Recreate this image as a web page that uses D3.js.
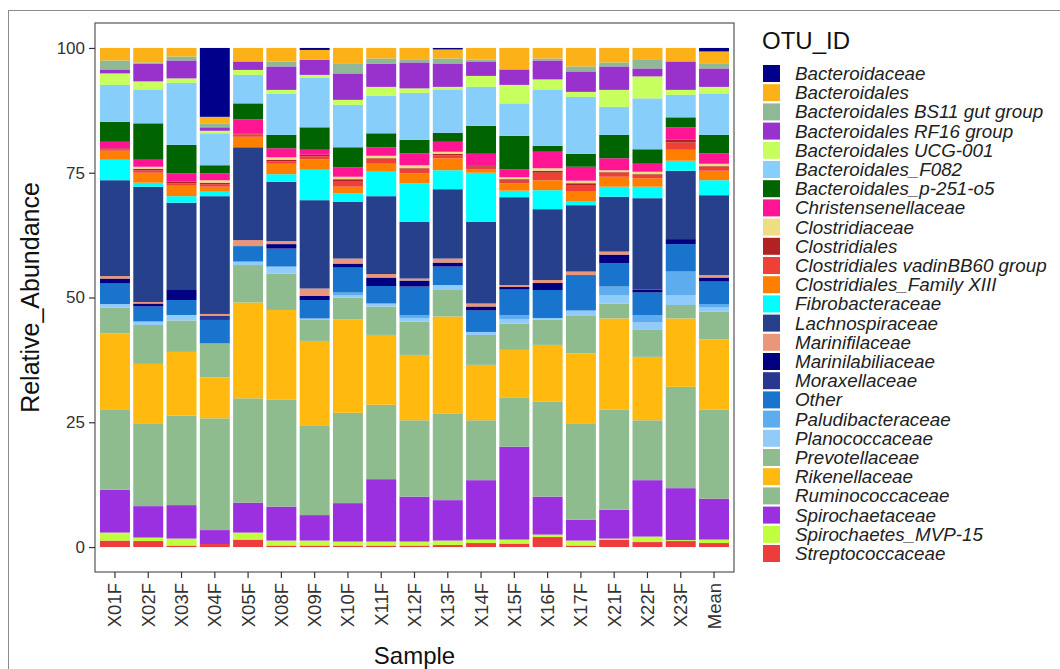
<!DOCTYPE html>
<html>
<head>
<meta charset="utf-8">
<script src="https://cdn.jsdelivr.net/npm/d3@7"></script>
<style>
  html, body { margin: 0; padding: 0; background: #fff; }
  svg { display: block; font-family: "Liberation Sans", Arial, Helvetica, sans-serif; }
</style>
</head>
<body>
<svg id="chart" width="1060" height="669"></svg>
<script>
// Samples along the x axis
const samples = ["X01F","X02F","X03F","X04F","X05F","X08F","X09F","X10F","X11F","X12F",
                 "X13F","X14F","X15F","X16F","X17F","X21F","X22F","X23F","Mean"];

// Taxa in legend order (first = top of each stack)
const taxa = [
  "Bacteroidaceae","Bacteroidales","Bacteroidales BS11 gut group","Bacteroidales RF16 group",
  "Bacteroidales UCG-001","Bacteroidales_F082","Bacteroidales_p-251-o5","Christensenellaceae",
  "Clostridiaceae","Clostridiales","Clostridiales vadinBB60 group","Clostridiales_Family XIII",
  "Fibrobacteraceae","Lachnospiraceae","Marinifilaceae","Marinilabiliaceae","Moraxellaceae",
  "Other","Paludibacteraceae","Planococcaceae","Prevotellaceae","Rikenellaceae",
  "Ruminococcaceae","Spirochaetaceae","Spirochaetes_MVP-15","Streptococcaceae"
];

const taxonColors = [
  "#00008B","#FBB117","#8FB996","#9932CC",
  "#C6FF5E","#87CEFA","#006400","#FF1493",
  "#EEDD82","#B22222","#EE4036","#FF7F00",
  "#00FFFF","#27408B","#E9967A","#000080","#283891",
  "#1874CD","#5CACEE","#90CBF9","#8FBC8F","#FFB90F",
  "#8FBC8F","#9B30E0","#C0FF3E","#EE3B3B"
];

// Relative abundance (%) per taxon, one value per sample in the order of `samples`
const bacteroidaceae    = [0,0,0,13.8,0,0,0.4,0,0,0,0.3,0,0,0,0,0,0,0,0.7];
const bacteroidales     = [2.5,2.9,1.7,1.3,2.7,2.7,2.0,3.2,2.1,2.4,1.8,2.3,4.3,2.1,3.7,2.9,2.4,2.7,2.5];
const bs11GutGroup      = [1.8,0.3,0.8,0.8,0,1.0,0,1.9,1.1,0.5,1.0,0.4,0,0.4,1.0,0.8,1.7,0,0.9];
const rf16Group         = [0.8,3.5,3.6,0.7,1.7,4.7,3.0,5.3,4.6,5.2,4.7,2.9,3.1,3.8,4.1,4.7,1.6,5.7,3.7];
const ucg001            = [2.3,1.6,0.9,0.5,1.0,0.8,0.5,1.0,1.8,0.9,0.5,2.2,3.7,2.0,1.0,3.4,4.4,1.0,1.3];
const f082              = [7.4,6.8,12.4,6.4,5.7,8.2,10.0,8.5,7.5,9.4,8.7,7.8,6.5,11.3,11.4,5.6,10.2,4.5,8.3];
const p251o5            = [4.0,7.3,5.7,1.6,3.2,2.7,4.5,4.0,2.8,2.7,1.8,5.6,6.7,1.2,2.6,4.7,2.9,2.0,3.7];
const christensenella   = [1.3,1.4,1.7,1.4,2.8,1.8,1.0,1.9,1.7,2.4,2.0,2.3,1.6,3.3,2.8,2.4,1.6,2.5,2.1];
const clostridiaceae    = [0,0.4,0,0.5,0,0.5,0,0.5,0.5,0.6,0.4,0,0.4,0.5,0.5,0.4,0.5,0,0.5];
const clostridiales     = [0.2,0.3,0.3,0.3,0.2,0.3,0.3,0.5,0.3,0.3,0.3,0.3,0.3,0.4,0.5,0.3,0.3,0.5,0.3];
const vadinBB60         = [0.3,0.5,0.5,0.5,0.5,0.5,0.6,1.0,0.8,0.7,0.6,0.5,0.5,1.5,1.2,0.6,0.5,1.5,0.6];
const familyXIII        = [1.8,2.0,2.1,1.0,2.1,2.1,2.1,1.3,1.6,2.0,2.4,0.7,1.5,2.0,2.0,2.0,1.7,2.2,1.9];
const fibrobacteraceae  = [4.1,0.8,1.3,0.9,0,1.5,6.1,1.7,4.9,7.7,3.8,9.8,1.3,3.8,0.7,2.0,2.3,2.0,3.0];
const lachnospiraceae   = [19.2,23.1,17.5,23.6,18.6,11.9,17.7,11.4,15.6,11.4,13.9,16.4,17.6,14.2,13.3,11.0,18.3,13.7,16.0];
const marinifilaceae    = [0.5,0.3,0,0.4,1.2,0.6,1.5,1.0,0.7,0.4,0.8,0.6,0.4,0.6,0.7,0.6,0,0,0.5];
const marinilabiliaceae = [1.0,0.6,2.0,0,0,0.9,0.8,0.8,1.7,1.2,0.8,0.8,0.5,1.4,0,1.7,0.6,1.0,0.8];
const moraxellaceae     = [0,0,0,0.8,0,0,0,0,0,0,0,0,0,0,0,0,0,0,0];
const other             = [4.1,3.0,3.0,4.7,3.1,3.6,3.7,5.0,3.5,5.7,3.7,4.3,5.1,5.6,7.1,4.7,4.5,5.5,4.5];
const paludibacteraceae = [0,0,0,0,0,0,0,0.5,0,0.6,0,0,0.8,0,0,1.8,1.5,4.7,0.7];
const planococcaceae    = [0.7,0.7,1.1,0,0.7,1.4,0.3,0.5,0.6,0.7,1.0,0.6,0.9,0.3,1.1,1.6,1.5,2.0,0.8];
const prevotellaceae    = [5.2,7.8,6.3,6.8,7.5,7.3,4.2,4.4,5.7,6.7,5.3,6.0,5.3,5.1,7.5,3.0,5.4,2.7,5.6];
const rikenellaceae     = [15.2,11.9,12.8,8.2,19.2,18.0,16.9,18.7,14.0,13.1,19.4,11.1,9.5,11.4,14.0,18.3,12.7,13.7,14.1];
const ruminococcaceae   = [16.1,16.6,17.9,22.4,20.9,21.4,18.0,18.1,14.9,15.3,17.4,12.0,9.9,19.0,19.3,20.0,12.0,20.3,17.8];
const spirochaetaceae   = [8.6,6.3,6.7,2.8,6.0,6.8,5.1,7.7,12.5,9.0,8.1,11.9,18.6,7.6,4.2,5.8,11.3,10.4,8.2];
const mvp15             = [1.6,0.7,1.4,0,1.4,1.0,1.0,0.8,0.8,0.8,0.9,0.7,0.8,0.5,1.0,0.2,1.1,0.2,0.7];
const streptococcaceae  = [1.3,1.2,0.3,0.6,1.5,0.3,0.3,0.3,0.3,0.3,0.4,0.8,0.7,2.0,0.3,1.5,1.0,1.2,0.8];

const seriesValues = [
  bacteroidaceae, bacteroidales, bs11GutGroup, rf16Group, ucg001, f082, p251o5,
  christensenella, clostridiaceae, clostridiales, vadinBB60, familyXIII, fibrobacteraceae,
  lachnospiraceae, marinifilaceae, marinilabiliaceae, moraxellaceae, other, paludibacteraceae,
  planococcaceae, prevotellaceae, rikenellaceae, ruminococcaceae, spirochaetaceae, mvp15,
  streptococcaceae
];

const yTicks = [0, 25, 50, 75, 100];

// Table of rows for d3.stack
const table = samples.map((s, i) => {
  const row = { sample: s };
  taxa.forEach((t, k) => { row[t] = seriesValues[k][i]; });
  return row;
});

const svg = d3.select("#chart");
svg.append("rect").attr("width", 1060).attr("height", 669).attr("fill", "#fff");

// outer frame
svg.append("rect")
  .attr("x", 8.5).attr("y", 10.5).attr("width", 1100).attr("height", 700)
  .attr("fill", "none").attr("stroke", "#8a8a8a").attr("stroke-width", 1);

const panel = { left: 95, right: 734, top: 23, bottom: 572 };

const x = d3.scaleBand()
  .domain(samples)
  .range([panel.left, panel.right])
  .paddingInner(0.1)
  .paddingOuter(0.15);

const y = d3.scaleLinear()
  .domain([-5, 105])
  .range([panel.bottom, panel.top]);

const color = d3.scaleOrdinal().domain(taxa).range(taxonColors);

// bottom of stack = last legend entry
const stack = d3.stack().keys(taxa.slice().reverse());
const layers = stack(table);

const g = svg.append("g");
g.selectAll("g.layer")
  .data(layers)
  .join("g")
  .attr("class", "layer")
  .attr("fill", d => color(d.key))
  .selectAll("rect")
  .data(d => d)
  .join("rect")
  .attr("x", d => x(d.data.sample))
  .attr("width", x.bandwidth())
  .attr("y", d => y(d[1]))
  .attr("height", d => Math.max(0, y(d[0]) - y(d[1])));

// panel border
svg.append("rect")
  .attr("x", panel.left).attr("y", panel.top)
  .attr("width", panel.right - panel.left).attr("height", panel.bottom - panel.top)
  .attr("fill", "none").attr("stroke", "#555").attr("stroke-width", 1.2);

// y axis
const yAxis = d3.axisLeft(y).tickValues(yTicks).tickSize(6).tickPadding(4);
const ya = svg.append("g").attr("transform", `translate(${panel.left},0)`).call(yAxis);
ya.select(".domain").remove();
ya.selectAll(".tick line").attr("stroke", "#333").attr("stroke-width", 1.2);
ya.selectAll(".tick text").attr("fill", "#333").style("font-size", "17px")
  .style("font-family", "'Liberation Sans', Arial, sans-serif");

// x axis
const xAxis = d3.axisBottom(x).tickSize(6).tickPadding(4);
const xa = svg.append("g").attr("transform", `translate(0,${panel.bottom})`).call(xAxis);
xa.select(".domain").remove();
xa.selectAll(".tick line").attr("stroke", "#333").attr("stroke-width", 1.2);
xa.selectAll(".tick text")
  .attr("fill", "#333")
  .style("font-size", "18.5px")
  .style("font-family", "'Liberation Sans', Arial, sans-serif")
  .attr("text-anchor", "end")
  .attr("transform", "rotate(-90)")
  .attr("x", -11).attr("y", 0).attr("dy", "0.35em");

// axis titles
svg.append("text")
  .attr("transform", `translate(39,${(panel.top + panel.bottom) / 2}) rotate(-90)`)
  .attr("text-anchor", "middle")
  .style("font-size", "25px").attr("fill", "#111")
  .text("Relative_Abundance");

svg.append("text")
  .attr("x", (panel.left + panel.right) / 2).attr("y", 664)
  .attr("text-anchor", "middle")
  .style("font-size", "24px").attr("fill", "#111")
  .text("Sample");

// legend
const legend = svg.append("g");
legend.append("text")
  .attr("x", 762).attr("y", 49)
  .style("font-size", "24px").attr("fill", "#111")
  .text("OTU_ID");

const rowStep = 19.2, firstCenter = 73.5;
const items = legend.selectAll("g.item")
  .data(taxa)
  .join("g")
  .attr("class", "item")
  .attr("transform", (d, i) => `translate(763,${firstCenter + i * rowStep})`);

items.append("rect")
  .attr("x", 0).attr("y", -8.5).attr("width", 17).attr("height", 17)
  .attr("fill", d => color(d));

items.append("text")
  .attr("x", 32).attr("y", 0).attr("dy", "0.35em")
  .style("font-size", "18.8px").style("font-style", "italic").attr("fill", "#222")
  .text(d => d);
</script>
</body>
</html>
